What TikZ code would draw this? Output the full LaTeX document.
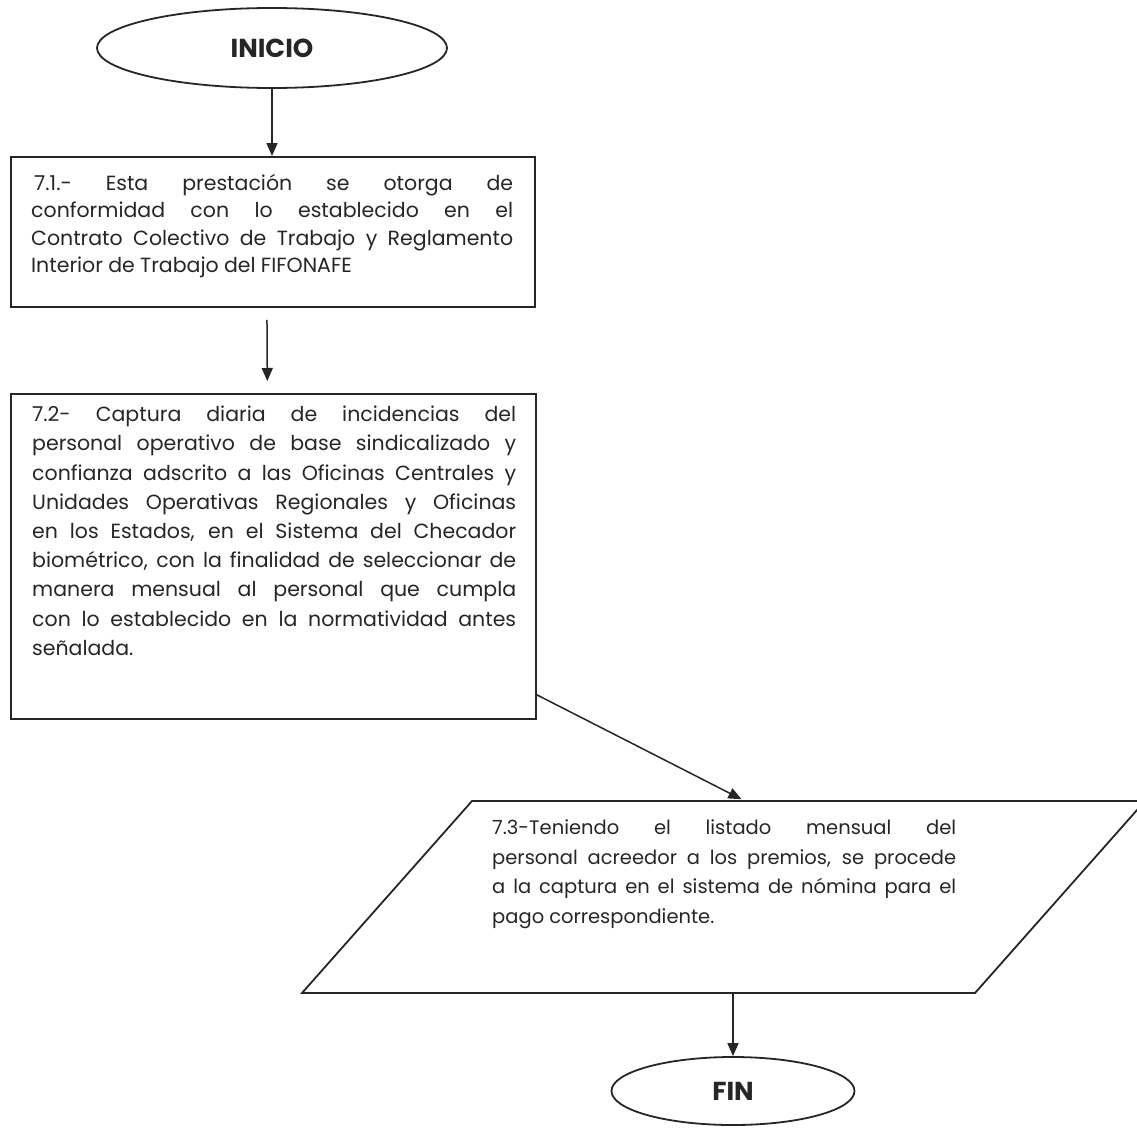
\documentclass[tikz,border=0pt]{standalone}
\usepackage{fontspec}
\setmainfont{Poppins}
\usetikzlibrary{arrows.meta,shapes.geometric}
\definecolor{ink}{HTML}{262626}
\newcommand{\parsetup}{\tolerance=10000\hyphenpenalty=10000\emergencystretch=0pt\spaceskip=0.26em plus 1.5em minus 0.12em\relax}
\begin{document}
\begin{tikzpicture}[x=1pt,y=-1pt,
  line/.style={draw=ink, line width=1.8pt},
  arr/.style={draw=ink, line width=1.5pt, -{Triangle[length=13pt,width=11pt]}},
  terminal/.style={ellipse, line, inner sep=0pt, text=ink,
    font=\fontsize{26}{30}\selectfont\bfseries},
  stepbox/.style={rectangle, line, anchor=north west, inner sep=0pt},
  bodytxt/.style={anchor=north west, inner sep=0pt, align=justify, text=ink}
]
\useasboundingbox[fill=white] (0,0) rectangle (1137,1129);

% start / end terminals
\node[terminal, minimum width=350pt, minimum height=80pt] (ini) at (272,48) {INICIO};
\node[terminal, minimum width=243pt, minimum height=68pt] (fin) at (733,1091) {FIN};

% step 7.1
\node[stepbox, minimum width=524pt, minimum height=150pt] (b1) at (10,156) {};
\node[bodytxt, text width=482pt, font=\fontsize{20.5}{27.5}\selectfont\parsetup] (t1) at (31,171)
  {\strut\hspace*{3pt}7.1.- Esta prestación se otorga de\linebreak
   conformidad con lo establecido en el\linebreak
   Contrato Colectivo de Trabajo y Reglamento\linebreak
   Interior de Trabajo del FIFONAFE};

% step 7.2
\node[stepbox, minimum width=525pt, minimum height=325pt] (b2) at (10,393) {};
\node[bodytxt, text width=484pt, font=\fontsize{20.5}{29.2}\selectfont\parsetup] (t2) at (32,401)
  {\strut 7.2- Captura diaria de incidencias del\linebreak
   personal operativo de base sindicalizado y\linebreak
   confianza adscrito a las Oficinas Centrales y\linebreak
   Unidades Operativas Regionales y Oficinas\linebreak
   en los Estados, en el Sistema del Checador\linebreak
   biométrico, con la finalidad de seleccionar de\linebreak
   manera mensual al personal que cumpla\linebreak
   con lo establecido en la normatividad antes\linebreak
   señalada.};

% step 7.3 (parallelogram)
\coordinate (p1) at (472,801);
\coordinate (p2) at (1145,801);
\coordinate (p3) at (975,993);
\coordinate (p4) at (302,993);
\draw[line] (p1) -- (p2) -- (p3) -- (p4) -- cycle;
\node[bodytxt, text width=464pt, font=\fontsize{19.5}{29.5}\selectfont\parsetup] (t3) at (492,814)
  {\strut 7.3-Teniendo el listado mensual del\linebreak
   personal acreedor a los premios, se procede\linebreak
   a la captura en el sistema de nómina para el\linebreak
   pago correspondiente.};

% connectors
\coordinate (ptop) at (745,801);
\coordinate (pbot) at (733,993);
\draw[arr] (ini.south) -- (b1.north -| ini.south);
\draw[arr, shorten <=12pt, shorten >=12pt] ([xshift=-6pt]b1.south) -- ([xshift=-6pt]b2.north);
\draw[arr, shorten >=4pt] ([yshift=25pt]b2.south east) -- (ptop);
\draw[arr] (pbot) -- (fin.north);
\end{tikzpicture}
\end{document}
